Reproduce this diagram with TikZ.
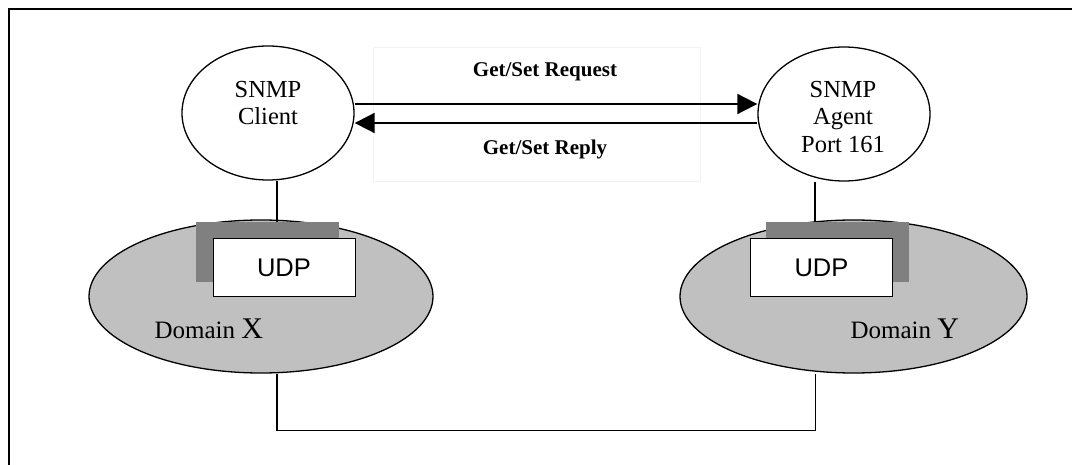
\documentclass[tikz,border=0pt]{standalone}
\usepackage{fontspec}
\setmainfont{Liberation Serif}
\newfontfamily\udpfont{Liberation Sans}
\usetikzlibrary{shapes.geometric,arrows.meta}
\definecolor{domgray}{HTML}{C0C0C0}
\definecolor{shadegray}{HTML}{808080}

\begin{document}
\begin{tikzpicture}
[x=1pt, y=-1pt,
 host/.style={draw, ellipse, line width=1.3pt, inner sep=0pt, minimum width=172pt, minimum height=134pt},
 netzone/.style={draw, ellipse, fill=domgray, line width=1.3pt, inner sep=0pt, minimum width=344pt, minimum height=153pt},
 shadow/.style={fill=shadegray, inner sep=0pt, minimum width=143pt, minimum height=60pt},
 udpbox/.style={draw, fill=white, line width=1pt, inner sep=0pt, minimum width=142pt, minimum height=58pt, font=\udpfont\fontsize{25.5}{30}\selectfont},
 hosttext/.style={align=center, font=\fontsize{24.5}{27.5}\selectfont},
 msgtext/.style={anchor=base, font=\bfseries\fontsize{21}{25}\selectfont},
 zonetext/.style={anchor=base west, font=\fontsize{25}{30}\selectfont},
 msg/.style={line width=1.8pt, -{Triangle[length=20pt,width=20pt]}},
 wire/.style={line width=1.3pt}]
\useasboundingbox (0,0) rectangle (1072,465);
% outer frame
\draw[line width=2pt] (1072,9) -- (9,9) -- (9,465);

% message area
\node[draw=black!5, inner sep=0pt, minimum width=327pt, minimum height=134pt] (msgbox) at (536.5,114) {};
\node[msgtext] (req) at (545,77) {Get/Set Request};
\node[msgtext] (rep) at (545,155) {Get/Set Reply};

% client and agent
\node[host] (client) at (268,113) {};
\node[hosttext] (clientlbl) at (268,103) {SNMP\\Client};
\node[host] (agent) at (844,114) {};
\node[hosttext] (agentlbl) at (843,117) {SNMP\\Agent\\Port 161};

\draw[msg] ([yshift=9pt]client.east) -- ([yshift=10pt]agent.west);
\draw[msg] ([yshift=-9pt]agent.west) -- ([yshift=-10pt]client.east);

% domains with UDP
\node[netzone] (zoneX) at (261,296.5) {};
\node[netzone, minimum width=347pt] (zoneY) at (853.5,296.5) {};
\node[shadow] (shX) at (267.5,252) {};
\node[udpbox] (udpX) at (284,268) {UDP};
\node[shadow] (shY) at (837.5,252) {};
\node[udpbox] (udpY) at (821.5,268) {UDP};
\node[zonetext] (nameX) at (151,339) {Domain {\fontsize{30}{36}\selectfont X}};
\node[zonetext] (nameY) at (847,339) {Domain {\fontsize{30}{36}\selectfont Y}};

% wires
\draw[wire] ([xshift=9pt]client.south) -- ([xshift=9pt]client.south |- shX.north);
\draw[wire] ([xshift=-29pt]agent.south) -- ([xshift=-29pt]agent.south |- shY.north);
\draw[wire] ([xshift=16pt]zoneX.south) -- ++(0,57) -| ([xshift=-38pt]zoneY.south);
\end{tikzpicture}
\end{document}
